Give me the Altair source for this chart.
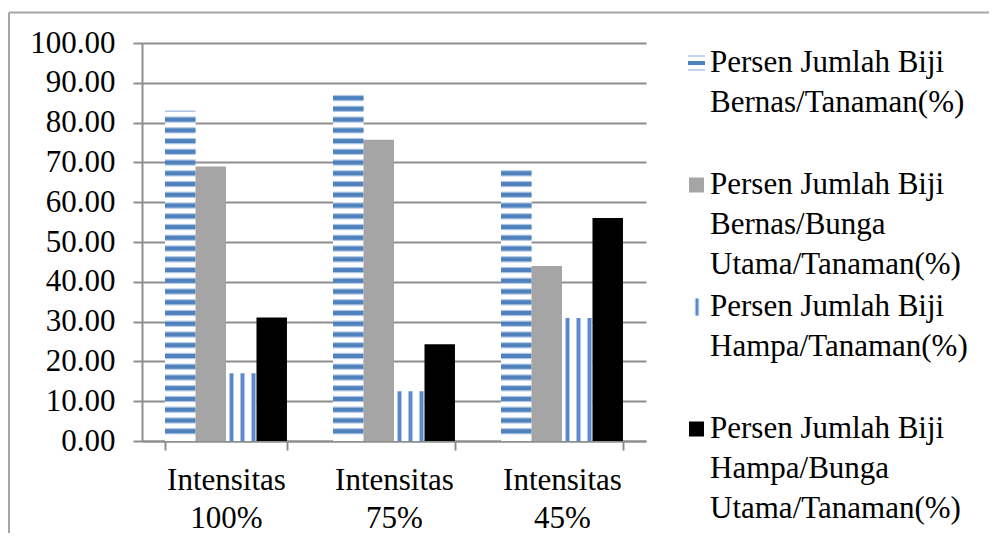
import altair as alt
import pandas as pd

# ---------------- data ----------------
categories = ["Intensitas 100%", "Intensitas 75%", "Intensitas 45%"]
series = [
    "Persen Jumlah Biji Bernas/Tanaman(%)",
    "Persen Jumlah Biji Bernas/Bunga Utama/Tanaman(%)",
    "Persen Jumlah Biji Hampa/Tanaman(%)",
    "Persen Jumlah Biji Hampa/Bunga Utama/Tanaman(%)",
]
legend_labels = [
    "Persen Jumlah Biji\nBernas/Tanaman(%)",
    "Persen Jumlah Biji\nBernas/Bunga\nUtama/Tanaman(%)",
    "Persen Jumlah Biji\nHampa/Tanaman(%)",
    "Persen Jumlah Biji\nHampa/Bunga\nUtama/Tanaman(%)",
]
bernas_tanaman = [83.0, 87.5, 69.1]
bernas_bunga = [69.0, 75.7, 44.0]
hampa_tanaman = [17.0, 12.5, 30.9]
hampa_bunga = [31.0, 24.3, 56.0]
y_ticks = [0, 10, 20, 30, 40, 50, 60, 70, 80, 90, 100]

rows = []
for i, c in enumerate(categories):
    for s, vals in zip(series, [bernas_tanaman, bernas_bunga, hampa_tanaman, hampa_bunga]):
        rows.append({"cat": c, "series": s, "value": vals[i]})
df = pd.DataFrame(rows)
leg_df = pd.DataFrame({"idx": list(range(len(series))), "label": legend_labels, "series": series})

# ---------------- style ----------------
FONT = "Liberation Serif"
FS = 31
BLUE = "#4F81BD"
LIGHT = "#B0C6E6"
LINE_BLUE = "#5A8ACB"
GRAY = "#A5A5A5"
AX = "#8E8E8E"

x_enc = alt.X(
    "cat:N", sort=categories,
    scale=alt.Scale(paddingInner=0.274, paddingOuter=0.137),
    axis=alt.Axis(title=None, labelExpr="split(datum.label, ' ')", labelAngle=0,
                  tickBand="extent", tickSize=9, labelPadding=15, labelLineHeight=38,
                  grid=False),
)
xo = alt.XOffset("series:N", sort=series,
                 scale=alt.Scale(domain=series, paddingInner=0, paddingOuter=0))


def y_enc(field):
    return alt.Y(field, scale=alt.Scale(domain=[0, 100], nice=False),
                 axis=alt.Axis(title=None, values=y_ticks, format=".2f", grid=True,
                               tickSize=9, labelPadding=18))


base = alt.Chart(df)

one = alt.Data(values=[{"a": 1}])
border_top = alt.Chart(one).mark_rule(color="#A6A6A6", strokeWidth=2).encode(
    x=alt.value(-133), x2=alt.value(847), y=alt.value(-30.5))
border_left = alt.Chart(one).mark_rule(color="#A6A6A6", strokeWidth=2).encode(
    x=alt.value(-133), y=alt.value(-30.5), y2=alt.value(490))

blue_src = base.transform_filter(alt.datum.series == series[0])
blue_bg = blue_src.mark_bar(fill="white").encode(x=x_enc, xOffset=xo, y=y_enc("value:Q"))
stripes = blue_src.transform_calculate(
    s="sequence(1.96, datum.value, 2.7)"
).transform_flatten(["s"]).transform_calculate(
    s2="min(datum.s + 1.0, datum.value)",
    h1="datum.s - 0.3",
    h2="min(datum.s + 1.3, datum.value)",
)
halo = stripes.mark_bar(color=LIGHT).encode(x=x_enc, xOffset=xo, y=y_enc("h1:Q"), y2="h2:Q")
dark = stripes.mark_bar(color=BLUE).encode(x=x_enc, xOffset=xo, y=y_enc("s:Q"), y2="s2:Q")

gray = base.transform_filter(alt.datum.series == series[1]).mark_bar(color=GRAY).encode(
    x=x_enc, xOffset=xo, y=y_enc("value:Q"))

stops = [alt.GradientStop(offset=0, color="white")]
for c in [0.18, 0.54, 0.90]:
    stops += [
        alt.GradientStop(offset=c - 0.085, color="white"),
        alt.GradientStop(offset=c - 0.085, color=LIGHT),
        alt.GradientStop(offset=c - 0.05, color=LIGHT),
        alt.GradientStop(offset=c - 0.05, color=LINE_BLUE),
        alt.GradientStop(offset=c + 0.05, color=LINE_BLUE),
        alt.GradientStop(offset=c + 0.05, color=LIGHT),
        alt.GradientStop(offset=min(c + 0.085, 1), color=LIGHT),
        alt.GradientStop(offset=min(c + 0.085, 1), color="white"),
    ]
stops.append(alt.GradientStop(offset=1, color="white"))
vgrad = alt.LinearGradient(gradient="linear", stops=stops, x1=0, x2=1, y1=0, y2=0)
hampa = base.transform_filter(alt.datum.series == series[2]).mark_bar(fill=vgrad).encode(
    x=x_enc, xOffset=xo, y=y_enc("value:Q"))

black = base.transform_filter(alt.datum.series == series[3]).mark_bar(color="black").encode(
    x=x_enc, xOffset=xo, y=y_enc("value:Q"))

main = alt.layer(border_top, border_left, blue_bg, halo, dark, gray, hampa, black).properties(
    width=504, height=398)

# ---------------- legend panel ----------------
leg_y = alt.Y("idx:O", axis=None, scale=alt.Scale(paddingInner=0, paddingOuter=0))
leg = alt.Chart(leg_df)
SYM_X = 20.5
SYM_DY = -41
leg_text = leg.mark_text(align="left", baseline="top", font=FONT, fontSize=FS, lineHeight=40,
                         lineBreak="\n", yOffset=-56, color="black").encode(
    y=leg_y, x=alt.value(34), text="label:N")
sym_blue_l = leg.transform_filter(alt.datum.idx == 0).mark_point(
    shape="M-1,-0.91H1V-0.73H-1Z M-1,0.73H1V0.91H-1Z", filled=True, size=289, color=LIGHT,
    opacity=1, yOffset=SYM_DY).encode(y=leg_y, x=alt.value(SYM_X))
sym_blue = leg.transform_filter(alt.datum.idx == 0).mark_point(
    shape="M-1,-0.235H1V0.235H-1Z", filled=True, size=289, color=BLUE,
    opacity=1, yOffset=SYM_DY).encode(y=leg_y, x=alt.value(SYM_X))
sym_gray = leg.transform_filter(alt.datum.idx == 1).mark_point(
    shape="square", filled=True, size=225, color=GRAY, opacity=1, yOffset=SYM_DY).encode(
    y=leg_y, x=alt.value(SYM_X))
sym_h_l = leg.transform_filter(alt.datum.idx == 2).mark_point(
    shape="M-0.26,-1H0.26V1H-0.26Z", filled=True, size=289, color=LIGHT, opacity=1,
    yOffset=SYM_DY).encode(y=leg_y, x=alt.value(SYM_X + 0.5))
sym_h = leg.transform_filter(alt.datum.idx == 2).mark_point(
    shape="M-0.13,-1H0.13V1H-0.13Z", filled=True, size=289, color=LINE_BLUE, opacity=1,
    yOffset=SYM_DY).encode(y=leg_y, x=alt.value(SYM_X + 0.5))
sym_black = leg.transform_filter(alt.datum.idx == 3).mark_point(
    shape="square", filled=True, size=225, color="black", opacity=1, yOffset=SYM_DY).encode(
    y=leg_y, x=alt.value(SYM_X))
legend = alt.layer(leg_text, sym_blue_l, sym_blue, sym_gray, sym_h_l, sym_h, sym_black).properties(
    width=290, height=488)

chart = alt.hconcat(main, legend, spacing=30, bounds="flush").properties(
    padding={"left": 0, "top": 3, "right": 0, "bottom": 0}
).configure_view(stroke=None).configure_axis(
    labelFont=FONT, labelFontSize=FS, labelColor="black",
    domainColor=AX, domainWidth=2, tickColor=AX, tickWidth=2,
    gridColor=AX, gridWidth=2,
)

chart.save("out.html", embed_options={"renderer": "svg", "actions": False})
